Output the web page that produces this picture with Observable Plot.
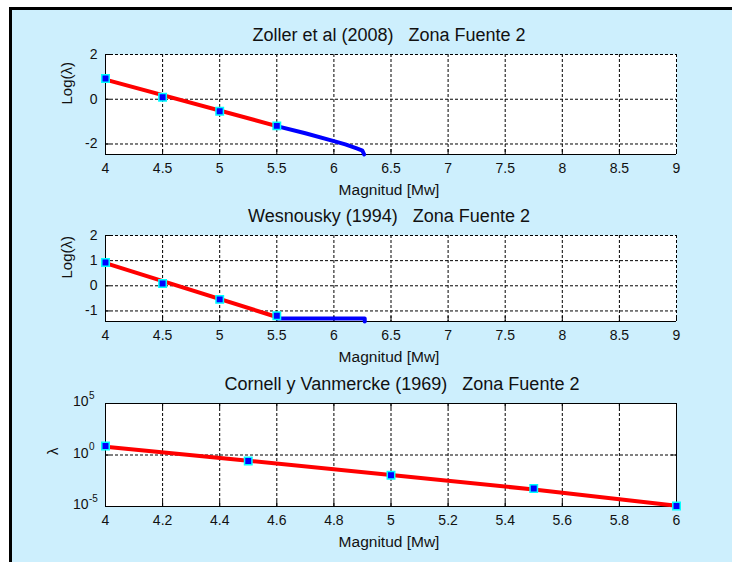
<!DOCTYPE html>
<html><head><meta charset="utf-8">
<script src="https://cdn.jsdelivr.net/npm/d3@7"></script>
<script src="https://cdn.jsdelivr.net/npm/@observablehq/plot@0.6"></script>
<style>
html,body{margin:0;padding:0;background:#fff;}
#fig{position:absolute;left:0;top:0;width:732px;height:562px;overflow:hidden;}
#bg{position:absolute;left:9px;top:7px;width:760px;height:600px;border-left:3px solid #000;border-top:3px solid #000;background:#cdeffd;}
.p{position:absolute;left:0;}
</style></head><body>
<div id="fig"><div id="bg"></div></div>
<script>
// ---- text ----
const titles = ["Zoller et al (2008)   Zona Fuente 2", "Wesnousky (1994)   Zona Fuente 2", "Cornell y Vanmercke (1969)   Zona Fuente 2"];
const xLabel = "Magnitud [Mw]";
const yLabelLog = "Log(λ)";
const yLabelLin = "λ";

// ---- ticks ----
const magTicks = [4, 4.5, 5, 5.5, 6, 6.5, 7, 7.5, 8, 8.5, 9];
const magTicks3 = [4, 4.2, 4.4, 4.6, 4.8, 5, 5.2, 5.4, 5.6, 5.8, 6];
const zYTicks = [-2, 0, 2];
const wYTicks = [-1, 0, 1, 2];
const cYTicks = [1e-5, 1, 1e5];
const cYExp = ["-5", "0", "5"];

// ---- observed points (top two panels) ----
const obsMag = [4, 4.5, 5, 5.5];
const obsLog = [0.93, 0.09, -0.54, -1.19];

// ---- Zoller et al (2008) ----
const zRedMag = [4, 5.5];
const zRedLog = [0.88, -1.2];
const zBlueMag = [5.5, 5.75, 6.0, 6.1, 6.2, 6.25, 6.265];
const zBlueLog = [-1.2, -1.52, -1.87, -2.02, -2.2, -2.3, -2.47];
const zYDomain = [-2.47, 2];

// ---- Wesnousky (1994) ----
const wRedMag = [4, 5.5];
const wRedLog = [0.9, -1.24];
const wBlueMag = [5.5, 6.27, 6.27];
const wBlueLog = [-1.3, -1.3, -1.42];
const wYDomain = [-1.42, 2];

// ---- Cornell y Vanmercke (1969) ----
const cLineMag = [4, 4.5, 5, 5.5, 6];
const cLineLam = [6.3, 0.275, 0.0112, 4.5e-4, 1.2e-5];
const cObsMag = [4, 4.5, 5, 5.5, 6];
const cObsLam = [7.6, 0.26, 0.011, 5.5e-4, 1.1e-5];
const cYDomain = [1e-5, 1e5];

const zip = (xs, ys) => xs.map((x, i) => ({x, y: ys[i]}));

const FONT = '"Liberation Sans", Arial, Helvetica, sans-serif';
const W = 732, ML = 105, MR = 56, MT = 40, MB = 50;
const FW = W - ML - MR;
const gridStyle = {stroke: "black", strokeWidth: 1, strokeDasharray: "3,2"};
const markerStyle = {x: "x", y: "y", symbol: "square", r: 4.2, fill: "#0000ff", stroke: "#00ffff", strokeWidth: 1.5};

function panel({top, frameH, xDomain, xTicks, y, yTicks, yLab, yLabDx, boxed, dataMarks, extraMarks = [], title, titleDx = -2}) {
  const marks = [
    Plot.frame({fill: "white"}),
    Plot.ruleX(xTicks, gridStyle),
    Plot.ruleY(yTicks, gridStyle),
    Plot.tickX(xTicks, {insetTop: frameH - 5, stroke: "black"}),
    Plot.tickY(yTicks, {insetRight: FW - 5, stroke: "black"}),
  ];
  if (boxed) {
    marks.push(Plot.tickX(xTicks, {insetBottom: frameH - 5, stroke: "black"}));
    marks.push(Plot.tickY(yTicks, {insetLeft: FW - 5, stroke: "black"}));
    marks.push(Plot.frame({stroke: "black"}));
  } else {
    marks.push(Plot.ruleX([xDomain[0]], {stroke: "black"}));
    marks.push(Plot.ruleY([y.domain[0]], {stroke: "black"}));
  }
  marks.push(...dataMarks, ...extraMarks);
  marks.push(Plot.text([title], {text: d => d, frameAnchor: "top", dy: -13.3, dx: titleDx, lineAnchor: "bottom", fontSize: 18, fill: "#111"}));
  marks.push(Plot.text([xLabel], {text: d => d, frameAnchor: "bottom", dy: 40, dx: -2, lineAnchor: "bottom", fontSize: 15.5, fill: "#111"}));
  marks.push(Plot.text([yLab], {text: d => d, frameAnchor: "left", dx: yLabDx, rotate: -90, fontSize: 15, fill: "#111"}));
  const svg = Plot.plot({
    width: W, height: MT + frameH + MB,
    marginLeft: ML, marginRight: MR, marginTop: MT, marginBottom: MB,
    style: {background: "transparent", fontFamily: FONT, fontSize: "14px", color: "#111", overflow: "visible"},
    x: {domain: xDomain, ticks: xTicks, tickFormat: d => String(d), tickSize: 0, tickPadding: 9, label: null},
    y,
    marks
  });
  svg.classList.add("p");
  svg.style.top = top + "px";
  svg.style.position = "absolute";
  document.getElementById("fig").appendChild(svg);
}

// Panel 1
panel({
  top: 14, frameH: 100, xDomain: [4, 9], xTicks: magTicks,
  y: {domain: zYDomain, ticks: zYTicks, tickFormat: d => String(d), tickSize: 0, tickPadding: 8, label: null},
  yTicks: zYTicks, yLab: yLabelLog, yLabDx: -38, boxed: false, title: titles[0],
  dataMarks: [
    Plot.line(zip(zBlueMag, zBlueLog), {x: "x", y: "y", stroke: "#0000ff", strokeWidth: 4}),
    Plot.line(zip(zRedMag, zRedLog), {x: "x", y: "y", stroke: "#ff0000", strokeWidth: 4}),
    Plot.dot(zip(obsMag, obsLog), markerStyle)
  ]
});

// Panel 2
panel({
  top: 195, frameH: 86, xDomain: [4, 9], xTicks: magTicks,
  y: {domain: wYDomain, ticks: wYTicks, tickFormat: d => String(d), tickSize: 0, tickPadding: 8, label: null},
  yTicks: wYTicks, yLab: yLabelLog, yLabDx: -38, boxed: false, title: titles[1],
  dataMarks: [
    Plot.line(zip(wBlueMag, wBlueLog), {x: "x", y: "y", stroke: "#0000ff", strokeWidth: 4}),
    Plot.line(zip(wRedMag, wRedLog), {x: "x", y: "y", stroke: "#ff0000", strokeWidth: 4}),
    Plot.dot(zip(obsMag, obsLog), markerStyle)
  ]
});

// Panel 3
const cTickRows = cYTicks.map((v, i) => ({v, e: cYExp[i]}));
panel({
  top: 363, frameH: 103, xDomain: [4, 6], xTicks: magTicks3,
  y: {type: "log", domain: cYDomain, axis: null},
  yTicks: cYTicks, yLab: yLabelLin, yLabDx: -52, boxed: true, title: titles[2], titleDx: 11,
  dataMarks: [
    Plot.line(zip(cLineMag, cLineLam), {x: "x", y: "y", stroke: "#ff0000", strokeWidth: 4}),
    Plot.dot(zip(cObsMag, cObsLam), markerStyle)
  ],
  extraMarks: [
    Plot.text(cTickRows, {y: "v", text: () => "10", frameAnchor: "left", textAnchor: "end", dx: -17, dy: -1.5, fontSize: 14, fill: "#111"}),
    Plot.text(cTickRows, {y: "v", text: "e", frameAnchor: "left", textAnchor: "start", dx: -16.5, dy: -8, fontSize: 10, fill: "#111"})
  ]
});
</script>
</body></html>
